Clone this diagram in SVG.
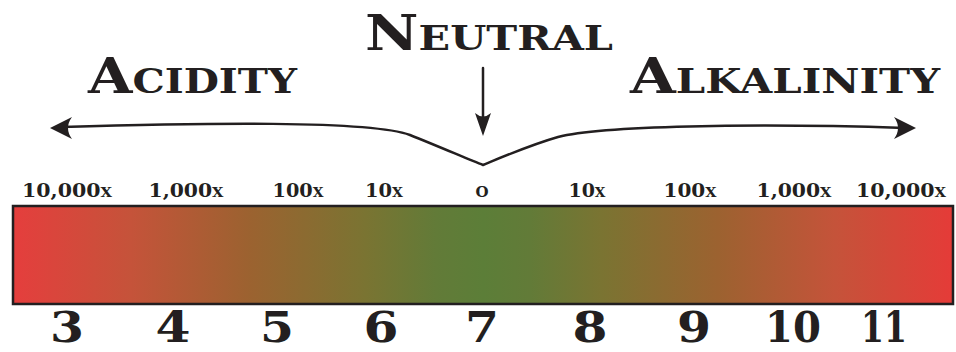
<svg xmlns="http://www.w3.org/2000/svg" width="956" height="352" viewBox="0 0 956 352">
<style>
.title{font-family:"DejaVu Serif","Liberation Serif",serif;font-weight:bold;font-variant:small-caps;font-size:48px;fill:#231f20}
.scale{font-family:"DejaVu Serif","Liberation Serif",serif;font-weight:bold;font-variant:small-caps;font-size:18px;fill:#231f20;text-anchor:middle}
.num{font-family:"DejaVu Serif","Liberation Serif",serif;font-weight:bold;font-size:42px;fill:#231f20;text-anchor:middle}
.line{fill:none;stroke:#231f20;stroke-width:2.5;stroke-linecap:round}
.head{fill:#231f20}
</style>
<defs>
<linearGradient id="ph" x1="0" y1="0" x2="1" y2="0">
<stop offset="0" stop-color="#e53e3d"/>
<stop offset="0.125" stop-color="#c5533a"/>
<stop offset="0.25" stop-color="#9c6230"/>
<stop offset="0.375" stop-color="#7a7432"/>
<stop offset="0.45" stop-color="#627b38"/>
<stop offset="0.5" stop-color="#5c7e38"/>
<stop offset="0.55" stop-color="#627b38"/>
<stop offset="0.625" stop-color="#7a7432"/>
<stop offset="0.75" stop-color="#9c6230"/>
<stop offset="0.875" stop-color="#c5533a"/>
<stop offset="1" stop-color="#e53b38"/>
</linearGradient>
</defs>
<g id="titles">
<text id="neutral" class="title" x="365" y="50" textLength="248" lengthAdjust="spacingAndGlyphs">Neutral</text>
<text id="acidity" class="title" x="88" y="93" textLength="209" lengthAdjust="spacingAndGlyphs">Acidity</text>
<text id="alkalinity" class="title" x="630" y="93" textLength="310" lengthAdjust="spacingAndGlyphs">Alkalinity</text>
</g>
<g id="connectors">
<path class="line" d="M 483,68 L 483,122"/>
<path class="head" d="M 483,136 L 475,113 Q 483,120 491,113 Z"/>
<path class="line" d="M 62,127 C 200,123 370,120 410,135 C 440,147 470,160 483,165 C 500,158 530,145 558,137 C 600,126 750,123 905,128"/>
<path class="head" d="M 50,128 L 72,117 Q 64,128 72,139 Z"/>
<path class="head" d="M 916,128 L 894,117 Q 902,128 894,139 Z"/>
</g>
<g id="scale-labels">
<text class="scale" x="67" y="197" textLength="90" lengthAdjust="spacingAndGlyphs">10,000x</text>
<text class="scale" x="186" y="197" textLength="75" lengthAdjust="spacingAndGlyphs">1,000x</text>
<text class="scale" x="298" y="197" textLength="51" lengthAdjust="spacingAndGlyphs">100x</text>
<text class="scale" x="384" y="197" textLength="38" lengthAdjust="spacingAndGlyphs">10x</text>
<text class="scale" x="482" y="197" style="font-size:21px">o</text>
<text class="scale" x="587" y="197" textLength="37" lengthAdjust="spacingAndGlyphs">10x</text>
<text class="scale" x="690" y="197" textLength="53" lengthAdjust="spacingAndGlyphs">100x</text>
<text class="scale" x="794" y="197" textLength="75" lengthAdjust="spacingAndGlyphs">1,000x</text>
<text class="scale" x="901" y="197" textLength="90" lengthAdjust="spacingAndGlyphs">10,000x</text>
</g>
<g id="bar">
<rect x="13" y="206" width="940" height="98" fill="url(#ph)" stroke="#231f20" stroke-width="2.5"/>
</g>
<g id="numbers">
<text class="num" x="67" y="342" textLength="34" lengthAdjust="spacingAndGlyphs">3</text>
<text class="num" x="173" y="342" textLength="35" lengthAdjust="spacingAndGlyphs">4</text>
<text class="num" x="277" y="342" textLength="34" lengthAdjust="spacingAndGlyphs">5</text>
<text class="num" x="381" y="342" textLength="35" lengthAdjust="spacingAndGlyphs">6</text>
<text class="num" x="482" y="342" textLength="34" lengthAdjust="spacingAndGlyphs">7</text>
<text class="num" x="590" y="342" textLength="35" lengthAdjust="spacingAndGlyphs">8</text>
<text class="num" x="694" y="342" textLength="34" lengthAdjust="spacingAndGlyphs">9</text>
<text class="num" x="793" y="342" textLength="56" lengthAdjust="spacingAndGlyphs">10</text>
<text class="num" x="884" y="342" textLength="46" lengthAdjust="spacingAndGlyphs">11</text>
</g>
</svg>
